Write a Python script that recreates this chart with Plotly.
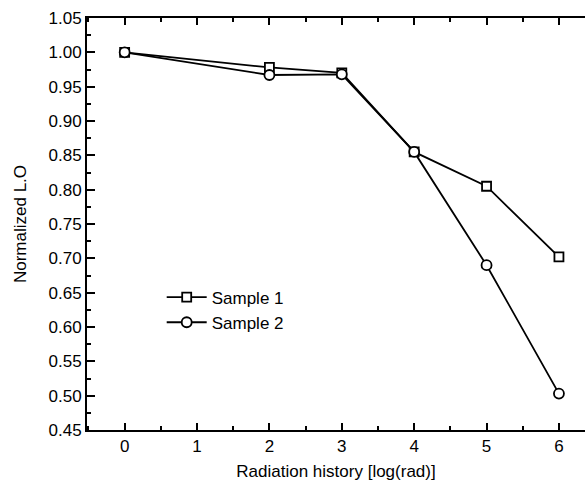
import plotly.graph_objects as go

# radiation history, log(rad)
dose = [0, 2, 3, 4, 5, 6]
sample1 = [1.000, 0.978, 0.970, 0.855, 0.805, 0.702]
sample2 = [1.000, 0.967, 0.968, 0.855, 0.690, 0.503]

fig = go.Figure()
fig.add_trace(go.Scatter(
    x=dose, y=sample1, name="Sample 1", mode="lines+markers",
    line=dict(color="black", width=1.8),
    marker=dict(symbol="square", size=9, color="white", line=dict(color="black", width=1.8)),
))
fig.add_trace(go.Scatter(
    x=dose, y=sample2, name="Sample 2", mode="lines+markers",
    line=dict(color="black", width=1.8),
    marker=dict(symbol="circle", size=10, color="white", line=dict(color="black", width=1.8)),
))

font = dict(family="Liberation Sans, Arial, sans-serif", size=17, color="black")

fig.update_layout(
    width=585, height=481,
    margin=dict(l=87, r=0, t=18, b=51),
    paper_bgcolor="white", plot_bgcolor="white",
    font=font,
    showlegend=True,
    legend=dict(x=0.15, y=0.365, xanchor="left", yanchor="top",
                bgcolor="rgba(0,0,0,0)", font=font, tracegroupgap=0, itemwidth=40),
)
fig.update_xaxes(
    range=[-0.52, 6.36], tickvals=[0, 1, 2, 3, 4, 5, 6],
    ticks="inside", ticklen=7, tickwidth=1.8, tickcolor="black",
    minor=dict(dtick=0.5, tick0=0, ticks="inside", ticklen=4, tickwidth=1.8, tickcolor="black"),
    showline=True, linecolor="black", linewidth=1.8, mirror="ticks",
    showgrid=False, zeroline=False, automargin=False,
    tickfont=font,
    title=dict(text="Radiation history [log(rad)]", font=font, standoff=10),
)
fig.update_yaxes(
    range=[0.45, 1.05], dtick=0.05, tickformat=".2f",
    ticks="inside", ticklen=8, tickwidth=1.8, tickcolor="black",
    minor=dict(dtick=0.025, ticks="inside", ticklen=4, tickwidth=1.8, tickcolor="black"),
    showline=True, linecolor="black", linewidth=1.8,
    showgrid=False, zeroline=False, automargin=False,
    tickfont=font,
    title=dict(text="Normalized L.O", font=font, standoff=18),
)

# drop the default 8px page margin so the figure fills the window
fig.write_html("out.html", config={"displayModeBar": False},
               post_script="document.body.style.margin='0';")
